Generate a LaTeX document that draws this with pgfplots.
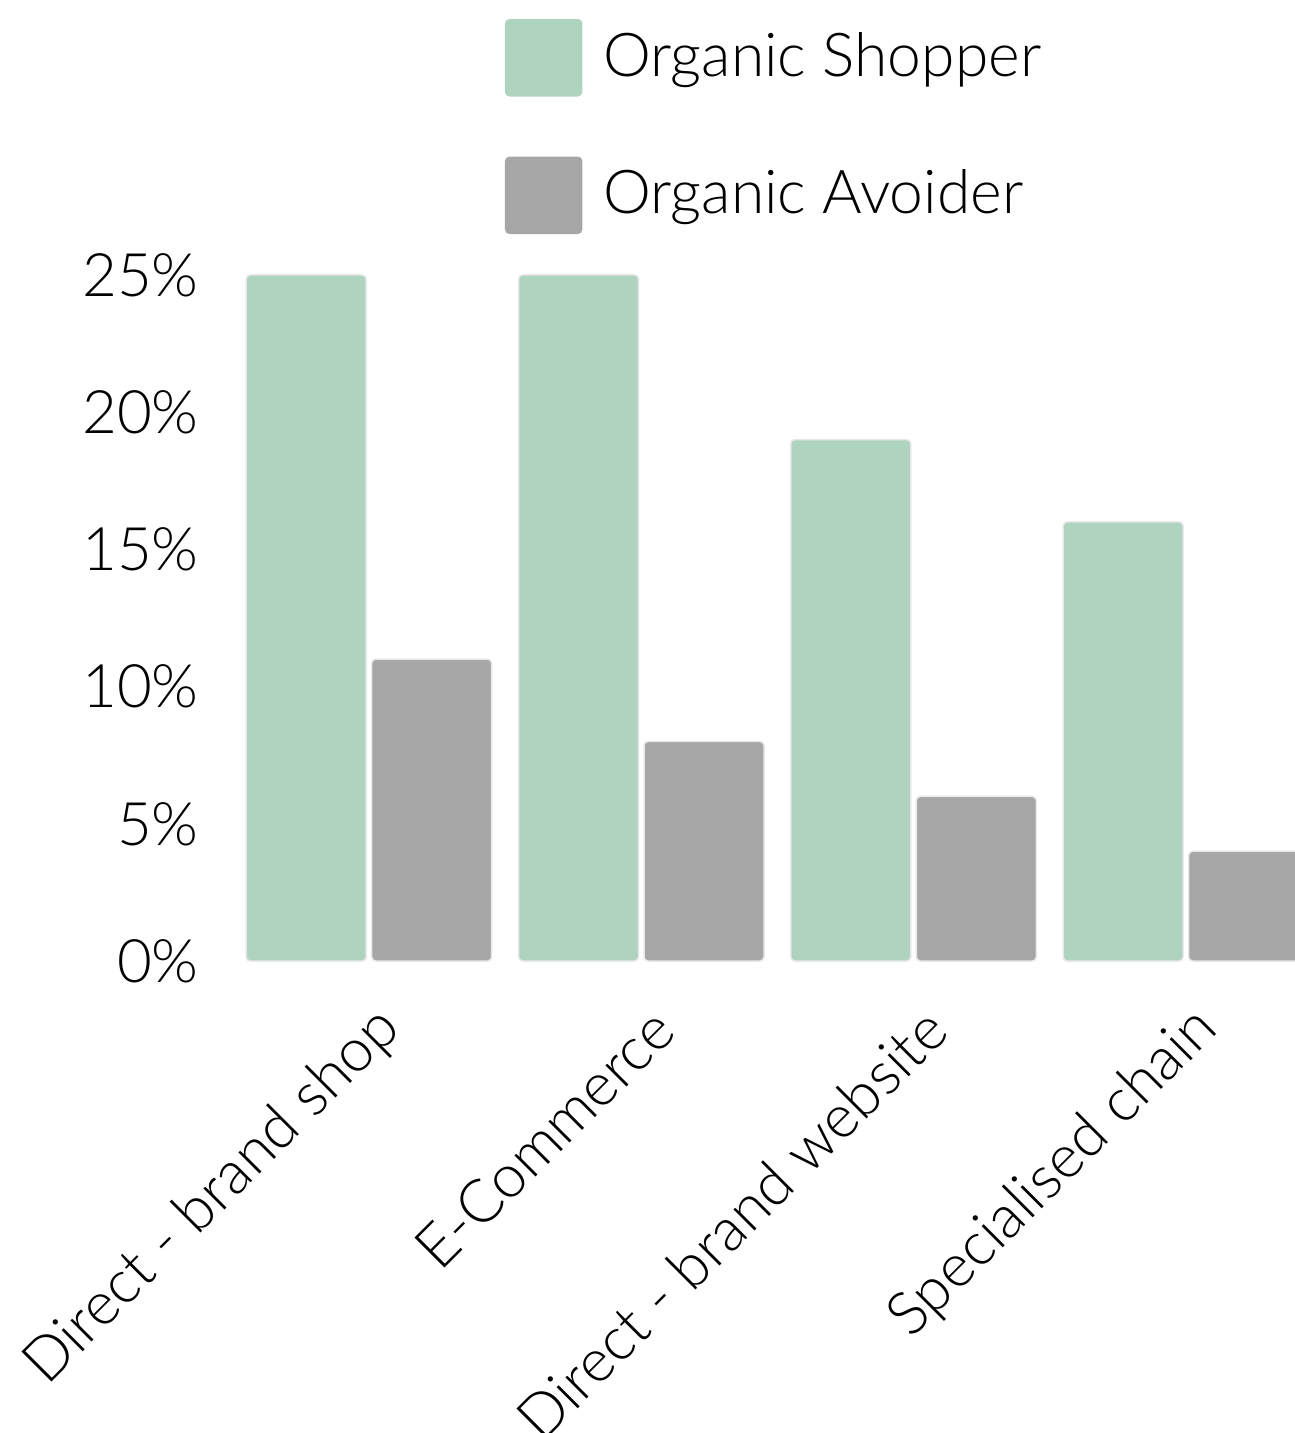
\documentclass[border=0pt]{standalone}
\usepackage{fontspec}
\setmainfont{Lato Light}
\usepackage{pgfplots}
\pgfplotsset{compat=1.18}
\definecolor{shop}{RGB}{174,212,192}
\definecolor{avoid}{RGB}{166,166,166}
\begin{document}
\begin{tikzpicture}
\useasboundingbox (0,0) rectangle (259pt,286.6pt);
\begin{axis}[
  at={(43.84pt,94.4pt)}, anchor=south west,
  x=54.46pt, y=5.488pt,
  xmin=-0.55, xmax=3.4008, ymin=0, ymax=25,
  axis line style={draw=none},
  major tick length=0pt,
  ybar=1.1pt, bar width=24pt,
  xtick={0,1,2,3},
  xticklabels={Direct - brand shop, E-Commerce, Direct - brand website, Specialised chain},
  xticklabel style={xshift=4.6pt, yshift=-11.6pt, rotate=45, anchor=east, inner sep=0pt},
  ytick={0,5,10,15,20,25},
  yticklabels={0\%,5\%,10\%,15\%,20\%,25\%},
  yticklabel style={anchor=east, inner sep=0pt, xshift=-3.9pt},
  tick label style={font=\fontsize{12}{14}\selectfont},
  legend style={draw=none, fill=none, at={(0.2647,1.3746)}, anchor=north west,
    inner sep=0pt, row sep=12pt, column sep=4.2pt,
    font=\fontsize{12.1}{14}\selectfont, nodes={inner sep=0pt}},
  legend cell align=left,
]
\addplot[fill=shop, draw=black!9, line width=0.3pt, rounded corners=0.8pt,
  legend image code/.code={\fill[shop] (0pt,-7.6pt) rectangle (15.2pt,7.6pt);}]
  coordinates {(0,25) (1,25) (2,19) (3,16)};
\addlegendentry{Organic Shopper}
\addplot[fill=avoid, draw=black!9, line width=0.3pt, rounded corners=0.8pt,
  legend image code/.code={\fill[avoid] (0pt,-7.6pt) rectangle (15.2pt,7.6pt);}]
  coordinates {(0,11) (1,8) (2,6) (3,4)};
\addlegendentry{Organic Avoider}
\end{axis}
\end{tikzpicture}
\end{document}
